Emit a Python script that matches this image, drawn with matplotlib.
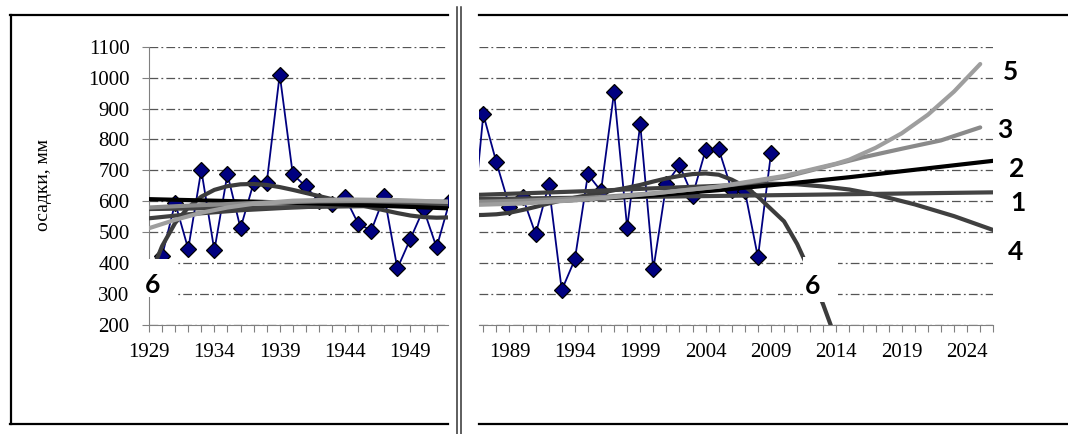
import numpy as np
import matplotlib.pyplot as plt
from matplotlib.lines import Line2D
from matplotlib.patches import Rectangle

plt.rcParams['font.family'] = 'Liberation Serif'

W, H = 1068, 434

# observed precipitation, mm
YEARS_L = np.arange(1930, 1953)
PREC_L = [423, 595, 446, 701, 441, 688, 513, 659, 658, 1010, 687, 648,
          600, 590, 613, 528, 505, 616, 383, 479, 575, 451, 600]
YEARS_R = np.arange(1986, 2010)
PREC_R = [440, 881, 726, 583, 615, 494, 653, 313, 412, 687, 633, 953,
          515, 849, 380, 657, 717, 618, 766, 769, 636, 634, 419, 755]

# trend curves 1..6 (left part / right part)
T1_LX = [1929, 1952]
T1_LY = [575, 588]
T1_RX = [1986, 2026]
T1_RY = [607, 629]

T2_LX = [1929, 1933, 1937, 1941, 1945, 1949, 1952]
T2_LY = [607, 603, 599, 594, 588, 582, 577]
T2_RX = [1986, 1990, 1995, 2000, 2005, 2010, 2015, 2020, 2026]
T2_RY = [591, 597, 606, 619, 636, 656, 678, 702, 731]

T3_LX = [1929, 1932, 1935, 1938, 1942, 1946, 1950, 1952]
T3_LY = [580, 586, 591, 596, 600, 601, 600, 599]
T3_RX = [1986, 1990, 1995, 2000, 2005, 2010, 2013, 2016, 2019, 2022, 2025]
T3_RY = [598, 602, 611, 626, 647, 678, 710, 742, 770, 797, 839]

T4_LX = [1929, 1932, 1936, 1940, 1945, 1952]
T4_LY = [545, 558, 571, 580, 588, 596]
T4_RX = [1986, 1995, 2000, 2005, 2009, 2011, 2013, 2015, 2017, 2020, 2023, 2026]
T4_RY = [620, 633, 642, 650, 657, 655, 648, 638, 622, 590, 552, 507]

T5_LX = [1929, 1931, 1933, 1935, 1937, 1940, 1944, 1948, 1952]
T5_LY = [513, 540, 563, 580, 592, 602, 606, 604, 598]
T5_RX = [1986, 1990, 1995, 2000, 2005, 2010, 2012, 2014, 2015, 2017, 2019, 2021, 2023, 2025]
T5_RY = [588, 593, 606, 625, 648, 682, 702, 722, 735, 773, 820, 880, 955, 1044]

T6_LX = list(range(1929, 1953))
T6_LY = [350, 455, 530, 580, 615, 637, 649, 655, 656, 653, 646, 637,
         627, 617, 607, 598, 589, 580, 571, 562, 554, 549, 547, 548]
T6_RX = list(range(1986, 2015))
T6_RY = [555, 556, 558, 563, 572, 582, 593, 603, 612, 620, 628, 636, 644,
         653, 664, 674, 682, 688, 690, 686, 670, 648, 615, 575, 535, 462,
         370, 265, 150]

Y_TICKS = list(range(200, 1101, 100))
XLAB_L = [1929, 1934, 1939, 1944, 1949]
XLAB_R = [1989, 1994, 1999, 2004, 2009, 2014, 2019, 2024]


def fx(x):
    return x / W


def fy(y):
    return 1 - y / H


fig = plt.figure(figsize=(W / 100, H / 100), dpi=100)
fig.patch.set_facecolor('white')

axL = fig.add_axes([fx(149), fy(325), (447.7 - 149) / W, (325 - 46.7) / H])
axR = fig.add_axes([fx(479), fy(325), (993.3 - 479) / W, (325 - 46.7) / H])

grid_style = dict(color='#555555', lw=0.9, linestyle=(0, (7, 2.5, 1.5, 2.5)))

for ax in (axL, axR):
    ax.set_ylim(200, 1100)
    ax.set_yticks(Y_TICKS)
    ax.yaxis.grid(True, **grid_style)
    ax.set_axisbelow(True)
    for s in ('top', 'right'):
        ax.spines[s].set_visible(False)
    ax.spines['bottom'].set_color('#808080')
    ax.spines['left'].set_color('#808080')
    ax.tick_params(axis='x', which='both', direction='out', length=5,
                   width=0.8, color='#808080', labelsize=15, pad=8)
    ax.tick_params(axis='y', direction='out', length=5, width=0.8,
                   color='#808080', labelsize=15, pad=9)

axL.set_xlim(1929, 1951.85)
axR.set_xlim(1986.67, 2026)

axL.set_xticks(XLAB_L)
axL.set_xticks(range(1929, 1952), minor=True)
axR.set_xticks(XLAB_R)
axR.set_xticks(range(1987, 2027), minor=True)
axR.spines['left'].set_visible(False)
axR.tick_params(axis='y', length=0, labelleft=False)

axL.set_ylabel('осадки, мм', fontsize=14)
axL.yaxis.set_label_coords(-(149 - 52) / (447.7 - 149), (325 - 185) / (325 - 46.7))

# data
for ax, xs, ys in ((axL, YEARS_L, PREC_L), (axR, YEARS_R, PREC_R)):
    ax.plot(xs, ys, color='#000080', lw=1.3, marker='D', ms=8.5,
            mfc='#000080', mec='black', mew=0.9, zorder=2)

trends = [
    (T6_LX, T6_LY, T6_RX, T6_RY, '#3c3c3c'),
    (T4_LX, T4_LY, T4_RX, T4_RY, '#404040'),
    (T1_LX, T1_LY, T1_RX, T1_RY, '#444444'),
    (T2_LX, T2_LY, T2_RX, T2_RY, '#000000'),
    (T3_LX, T3_LY, T3_RX, T3_RY, '#8a8a8a'),
    (T5_LX, T5_LY, T5_RX, T5_RY, '#9e9e9e'),
]
for lx, ly, rx, ry, c in trends:
    axL.plot(lx, ly, color=c, lw=3, solid_capstyle='round', zorder=3)
    axR.plot(rx, ry, color=c, lw=3, solid_capstyle='round', zorder=3)

# white boxes behind the "6" labels
for x0, y0, x1, y1 in ((141, 259, 177, 297), (803, 257, 838, 302)):
    fig.add_artist(Rectangle((fx(x0), fy(y1)), (x1 - x0) / W, (y1 - y0) / H,
                             transform=fig.transFigure, facecolor='white',
                             edgecolor='none', zorder=5))

labels = [('5', 1010.5, 79.5), ('3', 1005, 138.5), ('2', 1016.5, 177),
          ('1', 1018, 211), ('4', 1016, 259.5), ('6', 813, 293.5),
          ('6', 153, 293)]
for s, x, y in labels:
    fig.text(fx(x), fy(y), s, ha='center', va='baseline', fontsize=19,
             fontweight='bold', family='Lato', zorder=6)

# frames and the break mark
frame = dict(color='black', lw=1.6, transform=fig.transFigure, zorder=6)
for (x0, y0), (x1, y1) in (((10, 15), (448, 15)), ((10, 424), (448, 424)),
                           ((11, 15), (11, 424)), ((479, 15), (1068, 15)),
                           ((479, 424), (1068, 424))):
    fig.add_artist(Line2D([fx(x0), fx(x1)], [fy(y0), fy(y1)], **frame))
for x in (457, 461):
    fig.add_artist(Line2D([fx(x), fx(x)], [fy(7), fy(434)], color='#333333',
                          lw=1.1, transform=fig.transFigure, zorder=6))

fig.savefig('out.png', dpi=100)
